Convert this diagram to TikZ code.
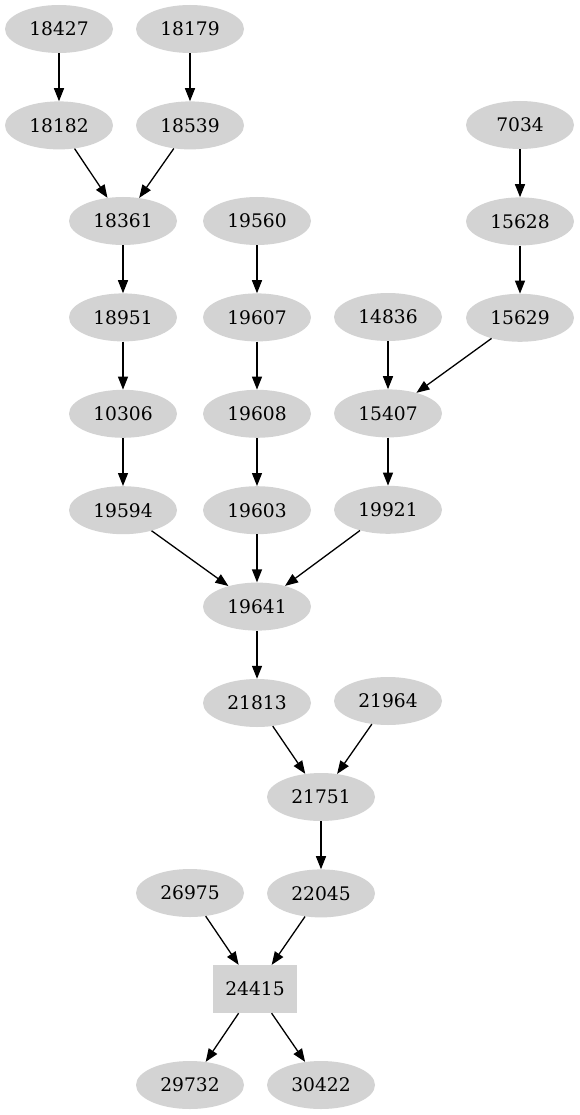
\documentclass[tikz,border=0pt]{standalone}
\usepackage{fontspec}
\setmainfont{DejaVu Serif}
\usetikzlibrary{shapes.geometric, arrows.meta, positioning}

\definecolor{nodegray}{HTML}{D3D3D3}

\begin{document}
\begin{tikzpicture}[
    x=1pt, y=1pt,
    node distance=48pt,
    num/.style={
        ellipse,
        fill=nodegray,
        minimum width=108pt,
        minimum height=48pt,
        inner sep=0pt,
        font=\fontsize{18.67pt}{22pt}\selectfont
    },
    hub/.style={
        rectangle,
        fill=nodegray,
        minimum width=84pt,
        minimum height=48pt,
        inner sep=0pt,
        font=\fontsize{18.67pt}{22pt}\selectfont
    },
    arrow/.style={-{Triangle[length=13pt,width=10pt]},line width=1.3pt}
]
\useasboundingbox (0,0) rectangle (579,-1115);

\node[num] (a18427) at (59,-29) {18427};
\node[num, below=of a18427] (a18182) {18182};
\node[num] (a18179) at (190,-29) {18179};
\node[num, below=of a18179] (a18539) {18539};
\node[num] (a7034) at (520,-125) {7034};
\node[num, below=of a7034] (a15628) {15628};
\node[num, below=of a15628] (a15629) {15629};

\node[num] (a18361) at (123,-221) {18361};
\node[num, below=of a18361] (a18951) {18951};
\node[num, below=of a18951] (a10306) {10306};
\node[num, below=of a10306] (a19594) {19594};

\node[num] (a19560) at (257,-221) {19560};
\node[num, below=of a19560] (a19607) {19607};
\node[num, below=of a19607] (a19608) {19608};
\node[num, below=of a19608] (a19603) {19603};
\node[num, below=of a19603] (a19641) {19641};
\node[num, below=of a19641] (a21813) {21813};

\node[num] (a14836) at (388,-317) {14836};
\node[num, below=of a14836] (a15407) {15407};
\node[num, below=of a15407] (a19921) {19921};
\node[num] (a21964) at (388,-701) {21964};

\node[num] (a21751) at (321,-797) {21751};
\node[num, below=of a21751] (a22045) {22045};
\node[num] (a26975) at (190,-893) {26975};
\node[hub] (a24415) at (255,-989) {24415};
\node[num] (a29732) at (190,-1085) {29732};
\node[num] (a30422) at (321,-1085) {30422};

\draw[arrow] (a18427) -- (a18182);
\draw[arrow] (a18179) -- (a18539);
\draw[arrow] (a18182) -- (a18361);
\draw[arrow] (a18539) -- (a18361);
\draw[arrow] (a7034) -- (a15628);
\draw[arrow] (a15628) -- (a15629);
\draw[arrow] (a18361) -- (a18951);
\draw[arrow] (a18951) -- (a10306);
\draw[arrow] (a10306) -- (a19594);
\draw[arrow] (a19560) -- (a19607);
\draw[arrow] (a19607) -- (a19608);
\draw[arrow] (a19608) -- (a19603);
\draw[arrow] (a14836) -- (a15407);
\draw[arrow] (a15629) -- (a15407);
\draw[arrow] (a15407) -- (a19921);
\draw[arrow] (a19594) -- (a19641);
\draw[arrow] (a19603) -- (a19641);
\draw[arrow] (a19921) -- (a19641);
\draw[arrow] (a19641) -- (a21813);
\draw[arrow] (a21813) -- (a21751);
\draw[arrow] (a21964) -- (a21751);
\draw[arrow] (a21751) -- (a22045);
\draw[arrow] (a26975) -- (a24415);
\draw[arrow] (a22045) -- (a24415);
\draw[arrow] (a24415) -- (a29732);
\draw[arrow] (a24415) -- (a30422);

\end{tikzpicture}
\end{document}
